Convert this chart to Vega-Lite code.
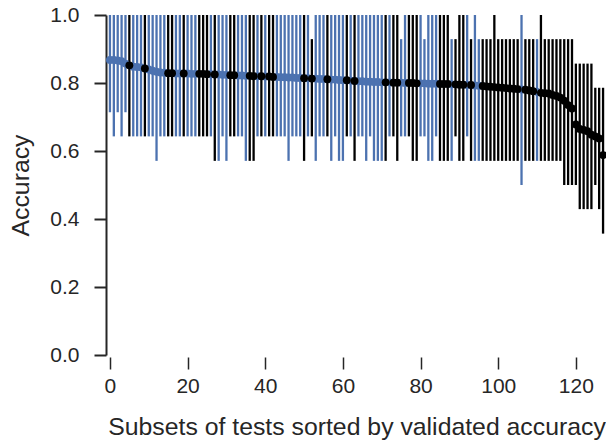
{
  "$schema": "https://vega.github.io/schema/vega-lite/v6.json",
  "width": 497,
  "height": 340,
  "autosize": {"type": "none"},
  "padding": {"left": 108, "top": 15, "right": 1, "bottom": 89},
  "background": "white",
  "config": {
    "view": {"stroke": null},
    "font": "Liberation Sans",
    "axis": {"grid": false, "labelColor": "#262626", "titleColor": "#262626", "domainColor": "#262626", "tickColor": "#262626", "labelFont": "Liberation Sans", "titleFont": "Liberation Sans", "titleFontWeight": "normal"}
  },
  "data": {"values": [
    {"i":0,"m":0.868,"lo":0.714,"hi":1,"c":"blue"},
    {"i":1,"m":0.868,"lo":0.643,"hi":1,"c":"blue"},
    {"i":2,"m":0.866,"lo":0.714,"hi":1,"c":"blue"},
    {"i":3,"m":0.864,"lo":0.643,"hi":1,"c":"blue"},
    {"i":4,"m":0.857,"lo":0.714,"hi":1,"c":"blue"},
    {"i":5,"m":0.852,"lo":0.643,"hi":1,"c":"black"},
    {"i":6,"m":0.848,"lo":0.643,"hi":1,"c":"blue"},
    {"i":7,"m":0.847,"lo":0.643,"hi":1,"c":"blue"},
    {"i":8,"m":0.846,"lo":0.643,"hi":1,"c":"blue"},
    {"i":9,"m":0.843,"lo":0.643,"hi":1,"c":"black"},
    {"i":10,"m":0.84,"lo":0.643,"hi":1,"c":"blue"},
    {"i":11,"m":0.836,"lo":0.643,"hi":1,"c":"blue"},
    {"i":12,"m":0.833,"lo":0.571,"hi":1,"c":"blue"},
    {"i":13,"m":0.831,"lo":0.643,"hi":1,"c":"blue"},
    {"i":14,"m":0.83,"lo":0.643,"hi":1,"c":"blue"},
    {"i":15,"m":0.829,"lo":0.643,"hi":1,"c":"black"},
    {"i":16,"m":0.829,"lo":0.643,"hi":1,"c":"black"},
    {"i":17,"m":0.828,"lo":0.643,"hi":1,"c":"blue"},
    {"i":18,"m":0.828,"lo":0.643,"hi":1,"c":"blue"},
    {"i":19,"m":0.828,"lo":0.643,"hi":1,"c":"black"},
    {"i":20,"m":0.828,"lo":0.643,"hi":1,"c":"blue"},
    {"i":21,"m":0.827,"lo":0.643,"hi":1,"c":"blue"},
    {"i":22,"m":0.827,"lo":0.643,"hi":1,"c":"blue"},
    {"i":23,"m":0.827,"lo":0.643,"hi":1,"c":"black"},
    {"i":24,"m":0.827,"lo":0.643,"hi":1,"c":"black"},
    {"i":25,"m":0.826,"lo":0.643,"hi":1,"c":"black"},
    {"i":26,"m":0.826,"lo":0.643,"hi":1,"c":"blue"},
    {"i":27,"m":0.825,"lo":0.571,"hi":1,"c":"black"},
    {"i":28,"m":0.825,"lo":0.571,"hi":1,"c":"blue"},
    {"i":29,"m":0.824,"lo":0.643,"hi":1,"c":"blue"},
    {"i":30,"m":0.824,"lo":0.571,"hi":1,"c":"blue"},
    {"i":31,"m":0.823,"lo":0.643,"hi":1,"c":"black"},
    {"i":32,"m":0.823,"lo":0.643,"hi":1,"c":"black"},
    {"i":33,"m":0.822,"lo":0.643,"hi":1,"c":"blue"},
    {"i":34,"m":0.822,"lo":0.643,"hi":1,"c":"blue"},
    {"i":35,"m":0.821,"lo":0.571,"hi":1,"c":"blue"},
    {"i":36,"m":0.821,"lo":0.571,"hi":1,"c":"black"},
    {"i":37,"m":0.82,"lo":0.571,"hi":1,"c":"black"},
    {"i":38,"m":0.82,"lo":0.643,"hi":1,"c":"blue"},
    {"i":39,"m":0.82,"lo":0.643,"hi":1,"c":"black"},
    {"i":40,"m":0.819,"lo":0.643,"hi":1,"c":"blue"},
    {"i":41,"m":0.819,"lo":0.643,"hi":1,"c":"black"},
    {"i":42,"m":0.818,"lo":0.643,"hi":1,"c":"black"},
    {"i":43,"m":0.818,"lo":0.643,"hi":1,"c":"blue"},
    {"i":44,"m":0.817,"lo":0.643,"hi":1,"c":"blue"},
    {"i":45,"m":0.817,"lo":0.643,"hi":1,"c":"blue"},
    {"i":46,"m":0.816,"lo":0.571,"hi":1,"c":"blue"},
    {"i":47,"m":0.816,"lo":0.643,"hi":1,"c":"blue"},
    {"i":48,"m":0.815,"lo":0.643,"hi":1,"c":"blue"},
    {"i":49,"m":0.815,"lo":0.643,"hi":1,"c":"blue"},
    {"i":50,"m":0.814,"lo":0.571,"hi":1,"c":"black"},
    {"i":51,"m":0.814,"lo":0.643,"hi":1,"c":"blue"},
    {"i":52,"m":0.813,"lo":0.643,"hi":0.929,"c":"black"},
    {"i":53,"m":0.813,"lo":0.571,"hi":1,"c":"blue"},
    {"i":54,"m":0.812,"lo":0.643,"hi":1,"c":"blue"},
    {"i":55,"m":0.812,"lo":0.643,"hi":1,"c":"blue"},
    {"i":56,"m":0.811,"lo":0.643,"hi":1,"c":"black"},
    {"i":57,"m":0.81,"lo":0.571,"hi":1,"c":"blue"},
    {"i":58,"m":0.81,"lo":0.643,"hi":1,"c":"blue"},
    {"i":59,"m":0.809,"lo":0.571,"hi":1,"c":"blue"},
    {"i":60,"m":0.808,"lo":0.571,"hi":1,"c":"blue"},
    {"i":61,"m":0.808,"lo":0.643,"hi":1,"c":"black"},
    {"i":62,"m":0.807,"lo":0.643,"hi":1,"c":"blue"},
    {"i":63,"m":0.806,"lo":0.571,"hi":1,"c":"black"},
    {"i":64,"m":0.805,"lo":0.643,"hi":1,"c":"blue"},
    {"i":65,"m":0.805,"lo":0.643,"hi":1,"c":"blue"},
    {"i":66,"m":0.804,"lo":0.571,"hi":1,"c":"blue"},
    {"i":67,"m":0.804,"lo":0.643,"hi":1,"c":"blue"},
    {"i":68,"m":0.803,"lo":0.571,"hi":1,"c":"blue"},
    {"i":69,"m":0.803,"lo":0.571,"hi":1,"c":"blue"},
    {"i":70,"m":0.802,"lo":0.571,"hi":1,"c":"blue"},
    {"i":71,"m":0.802,"lo":0.571,"hi":1,"c":"black"},
    {"i":72,"m":0.802,"lo":0.643,"hi":1,"c":"blue"},
    {"i":73,"m":0.801,"lo":0.643,"hi":1,"c":"black"},
    {"i":74,"m":0.801,"lo":0.571,"hi":1,"c":"black"},
    {"i":75,"m":0.801,"lo":0.643,"hi":0.929,"c":"blue"},
    {"i":76,"m":0.8,"lo":0.643,"hi":1,"c":"blue"},
    {"i":77,"m":0.8,"lo":0.643,"hi":1,"c":"black"},
    {"i":78,"m":0.8,"lo":0.571,"hi":1,"c":"black"},
    {"i":79,"m":0.799,"lo":0.571,"hi":1,"c":"black"},
    {"i":80,"m":0.799,"lo":0.643,"hi":1,"c":"blue"},
    {"i":81,"m":0.799,"lo":0.643,"hi":0.929,"c":"blue"},
    {"i":82,"m":0.798,"lo":0.571,"hi":1,"c":"blue"},
    {"i":83,"m":0.798,"lo":0.571,"hi":1,"c":"blue"},
    {"i":84,"m":0.798,"lo":0.643,"hi":1,"c":"blue"},
    {"i":85,"m":0.797,"lo":0.571,"hi":1,"c":"black"},
    {"i":86,"m":0.797,"lo":0.571,"hi":1,"c":"black"},
    {"i":87,"m":0.797,"lo":0.571,"hi":1,"c":"black"},
    {"i":88,"m":0.796,"lo":0.571,"hi":0.929,"c":"blue"},
    {"i":89,"m":0.796,"lo":0.643,"hi":0.929,"c":"black"},
    {"i":90,"m":0.795,"lo":0.571,"hi":1,"c":"black"},
    {"i":91,"m":0.795,"lo":0.571,"hi":1,"c":"black"},
    {"i":92,"m":0.794,"lo":0.643,"hi":1,"c":"blue"},
    {"i":93,"m":0.794,"lo":0.571,"hi":0.929,"c":"black"},
    {"i":94,"m":0.793,"lo":0.571,"hi":1,"c":"blue"},
    {"i":95,"m":0.792,"lo":0.571,"hi":0.929,"c":"blue"},
    {"i":96,"m":0.791,"lo":0.571,"hi":0.929,"c":"black"},
    {"i":97,"m":0.79,"lo":0.571,"hi":0.929,"c":"black"},
    {"i":98,"m":0.789,"lo":0.571,"hi":0.929,"c":"black"},
    {"i":99,"m":0.788,"lo":0.571,"hi":1,"c":"black"},
    {"i":100,"m":0.787,"lo":0.571,"hi":0.929,"c":"black"},
    {"i":101,"m":0.786,"lo":0.571,"hi":0.929,"c":"black"},
    {"i":102,"m":0.785,"lo":0.571,"hi":0.929,"c":"black"},
    {"i":103,"m":0.784,"lo":0.571,"hi":0.929,"c":"black"},
    {"i":104,"m":0.783,"lo":0.571,"hi":0.929,"c":"black"},
    {"i":105,"m":0.782,"lo":0.571,"hi":0.929,"c":"black"},
    {"i":106,"m":0.781,"lo":0.5,"hi":1,"c":"blue"},
    {"i":107,"m":0.78,"lo":0.571,"hi":0.929,"c":"black"},
    {"i":108,"m":0.778,"lo":0.571,"hi":0.929,"c":"black"},
    {"i":109,"m":0.776,"lo":0.571,"hi":0.929,"c":"black"},
    {"i":110,"m":0.774,"lo":0.571,"hi":0.929,"c":"blue"},
    {"i":111,"m":0.771,"lo":0.571,"hi":1,"c":"black"},
    {"i":112,"m":0.77,"lo":0.571,"hi":0.929,"c":"black"},
    {"i":113,"m":0.769,"lo":0.571,"hi":0.929,"c":"black"},
    {"i":114,"m":0.765,"lo":0.571,"hi":0.929,"c":"black"},
    {"i":115,"m":0.762,"lo":0.571,"hi":0.929,"c":"black"},
    {"i":116,"m":0.757,"lo":0.571,"hi":0.929,"c":"black"},
    {"i":117,"m":0.748,"lo":0.5,"hi":0.929,"c":"black"},
    {"i":118,"m":0.735,"lo":0.5,"hi":0.929,"c":"black"},
    {"i":119,"m":0.725,"lo":0.5,"hi":0.929,"c":"black"},
    {"i":120,"m":0.678,"lo":0.5,"hi":0.857,"c":"black"},
    {"i":121,"m":0.665,"lo":0.429,"hi":0.857,"c":"black"},
    {"i":122,"m":0.662,"lo":0.429,"hi":0.857,"c":"black"},
    {"i":123,"m":0.658,"lo":0.429,"hi":0.857,"c":"black"},
    {"i":124,"m":0.648,"lo":0.429,"hi":0.857,"c":"black"},
    {"i":125,"m":0.643,"lo":0.5,"hi":0.786,"c":"black"},
    {"i":126,"m":0.637,"lo":0.429,"hi":0.786,"c":"black"},
    {"i":127,"m":0.588,"lo":0.357,"hi":0.786,"c":"black"}
  ]},
  "encoding": {
    "x": {"field": "i", "type": "quantitative",
      "scale": {"domain": [-0.5, 127.5], "nice": false, "zero": false},
      "axis": {"values": [0, 20, 40, 60, 80, 100, 120], "domain": false, "offset": 2, "tickSize": 12, "tickWidth": 1.5, "labelFontSize": 21, "labelPadding": 6, "title": "Subsets of tests sorted by validated accuracy", "titleFontSize": 24.8, "titlePadding": 18}
    }
  },
  "layer": [
    {
      "mark": {"type": "rule", "strokeWidth": 2.3},
      "encoding": {
        "y": {"field": "lo", "type": "quantitative",
          "scale": {"domain": [0, 1], "nice": false},
          "axis": {"values": [0, 0.2, 0.4, 0.6, 0.8, 1.0], "format": ".1f", "offset": 2, "domainWidth": 2, "tickSize": 12, "tickWidth": 2, "labelFontSize": 21, "labelPadding": 15, "title": "Accuracy", "titleFontSize": 24.8, "titlePadding": 16}
        },
        "y2": {"field": "hi"},
        "color": {"field": "c", "type": "nominal", "scale": {"domain": ["blue", "black"], "range": ["#4c72b0", "#000000"]}, "legend": null}
      }
    },
    {
      "mark": {"type": "point", "filled": true, "shape": "circle", "size": 62, "opacity": 1},
      "encoding": {
        "y": {"field": "m", "type": "quantitative"},
        "color": {"field": "c", "type": "nominal", "legend": null},
        "order": {"field": "c", "sort": "descending"}
      }
    }
  ]
}
